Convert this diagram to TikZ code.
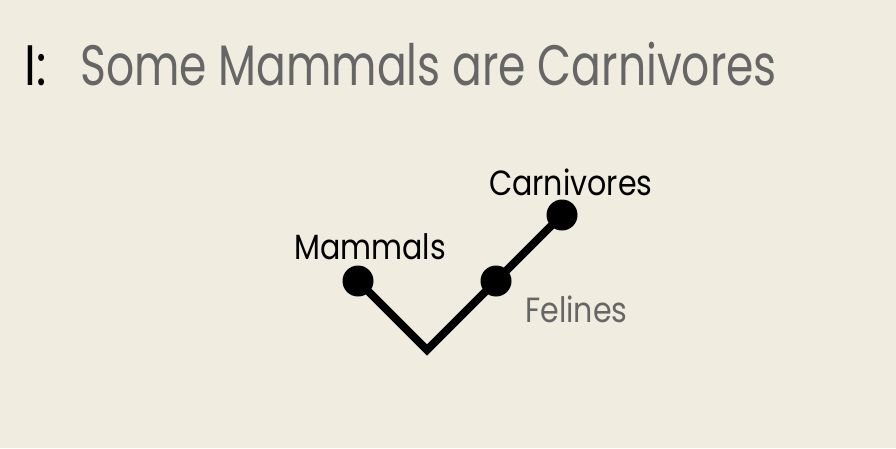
\documentclass[tikz,border=0pt]{standalone}
\usepackage{fontspec}
\setmainfont{Poppins}
\definecolor{bg}{HTML}{F0ECE0}
\definecolor{greytext}{HTML}{666666}
\begin{document}
\begin{tikzpicture}[x=1pt,y=-1pt,
  dot/.style={circle,fill=black,inner sep=0pt,minimum size=31pt},
  lbl/.style={inner sep=0pt,anchor=base west,xscale=0.86,font=\fontsize{35}{35}\selectfont},
  ttl/.style={inner sep=0pt,anchor=base west,font=\fontsize{57}{57}\selectfont}]
\fill[bg] (0,0) rectangle (896,448);
\useasboundingbox (0,0) rectangle (896,448);
\node[ttl,xscale=0.85] (num) at (24,85) {I:};
\node[ttl,text=greytext,xscale=0.773] (title) at (80,85) {Some Mammals are Carnivores};
\coordinate (v) at (427,350);
\node[dot] (mam) at (358,281) {};
\node[dot] (fel) at (496,281) {};
\node[dot] (car) at (562,215) {};
\draw[line width=8pt] (mam.center) -- (v) -- (fel.center) -- (car.center);
\node[lbl] (lmam) at (294,259) {Mammals};
\node[lbl] (lcar) at (489,195) {Carnivores};
\node[lbl,text=greytext] (lfel) at (525,322) {Felines};
\end{tikzpicture}
\end{document}
